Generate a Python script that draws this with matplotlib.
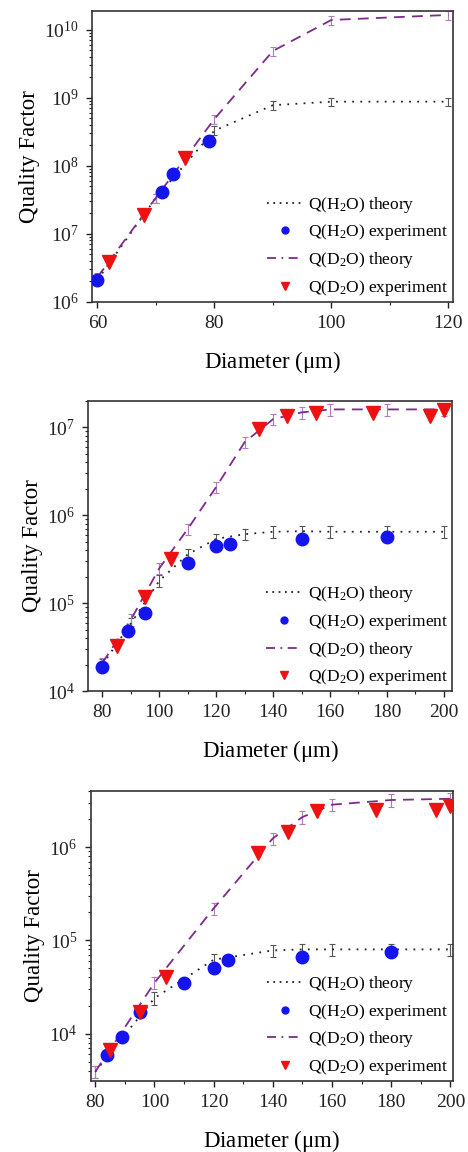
import numpy as np
import matplotlib
matplotlib.use("Agg")
import matplotlib.pyplot as plt
from matplotlib.lines import Line2D
from matplotlib.ticker import MultipleLocator, LogLocator

plt.rcParams['font.family'] = ['Liberation Serif', 'DejaVu Serif']
plt.rcParams['mathtext.fontset'] = 'custom'
plt.rcParams['mathtext.rm'] = 'Liberation Serif'
plt.rcParams['mathtext.it'] = 'Liberation Serif:italic'

# panel 1 (60-120 um)
p1_th_x = [60, 70, 80, 90, 100, 120]
p1_h2o_th = [2.1e6, 3.4e7, 3.3e8, 7.8e8, 8.8e8, 8.8e8]
p1_d2o_th = [2.3e6, 3.4e7, 4.9e8, 4.9e9, 1.4e10, 1.66e10]
p1_h2o_x = [60, 71, 73, 79]
p1_h2o_y = [2.1e6, 4.1e7, 7.5e7, 2.35e8]
p1_d2o_x = [62, 68, 75]
p1_d2o_y = [3.9e6, 1.9e7, 1.3e8]

# panel 2 (80-200 um)
p2_th_x = [80, 90, 100, 110, 120, 130, 140, 150, 160, 180, 200]
p2_h2o_th = [2.0e4, 5.9e4, 1.8e5, 3.6e5, 5.4e5, 6.1e5, 6.5e5, 6.6e5, 6.5e5, 6.5e5, 6.5e5]
p2_d2o_th = [2.1e4, 6.5e4, 2.5e5, 7.0e5, 2.1e6, 6.8e6, 1.24e7, 1.48e7, 1.6e7, 1.6e7, 1.6e7]
p2_h2o_x = [80, 89, 95, 110, 120, 125, 150, 180]
p2_h2o_y = [1.87e4, 4.9e4, 7.8e4, 2.9e5, 4.5e5, 4.7e5, 5.4e5, 5.6e5]
p2_d2o_x = [85, 95, 104, 135, 145, 155, 175, 195, 200]
p2_d2o_y = [3.3e4, 1.18e5, 3.2e5, 9.6e6, 1.36e7, 1.45e7, 1.44e7, 1.36e7, 1.58e7]

# panel 3 (80-200 um)
p3_th_x = [80, 100, 120, 140, 150, 160, 180, 200]
p3_h2o_th = [3.9e3, 2.4e4, 6.2e4, 7.8e4, 8.0e4, 8.0e4, 8.0e4, 8.0e4]
p3_d2o_th = [3.9e3, 3.5e4, 2.2e5, 1.24e6, 2.1e6, 2.85e6, 3.2e6, 3.3e6]
p3_h2o_x = [84, 89, 95, 110, 120, 125, 150, 180]
p3_h2o_y = [5.85e3, 9.1e3, 1.7e4, 3.5e4, 5.1e4, 6.2e4, 6.7e4, 7.5e4]
p3_d2o_x = [85, 95, 104, 135, 145, 155, 175, 195, 200]
p3_d2o_y = [6.6e3, 1.7e4, 4.0e4, 8.7e5, 1.46e6, 2.46e6, 2.5e6, 2.5e6, 2.75e6]

labels = [r'Q(H$_2$O) theory', r'Q(H$_2$O) experiment',
          r'Q(D$_2$O) theory', r'Q(D$_2$O) experiment']

PURPLE = '#7d2a8c'
PURPLE_ERR = '#b07cc0'
GREY_ERR = '#555555'
BLUE = '#1414ee'
RED = '#ee1111'

panels = [
    dict(rect=[0.197, 0.738, 0.771, 0.2525], xlim=(59.1, 120.8), ylim=(1e6, 1.9e10),
         xmaj=20, th_x=p1_th_x, h_th=p1_h2o_th, d_th=p1_d2o_th,
         hx=p1_h2o_x, hy=p1_h2o_y, dx=p1_d2o_x, dy=p1_d2o_y),
    dict(rect=[0.189, 0.400, 0.777, 0.252], xlim=(75.1, 202.9), ylim=(1e4, 2e7),
         xmaj=20, th_x=p2_th_x, h_th=p2_h2o_th, d_th=p2_d2o_th,
         hx=p2_h2o_x, hy=p2_h2o_y, dx=p2_d2o_x, dy=p2_d2o_y),
    dict(rect=[0.194, 0.0616, 0.774, 0.2518], xlim=(78.5, 200.9), ylim=(3.1e3, 4.0e6),
         xmaj=20, th_x=p3_th_x, h_th=p3_h2o_th, d_th=p3_d2o_th,
         hx=p3_h2o_x, hy=p3_h2o_y, dx=p3_d2o_x, dy=p3_d2o_y),
]

fig = plt.figure(figsize=(4.68, 11.52), dpi=100)

for p in panels:
    ax = fig.add_axes(p['rect'])
    ax.set_yscale('log')

    th_x = np.array(p['th_x'])
    h_th = np.array(p['h_th'])
    d_th = np.array(p['d_th'])

    ax.errorbar(th_x, h_th, yerr=0.15 * h_th, fmt='none', ecolor=GREY_ERR,
                elinewidth=0.8, capsize=2.5, capthick=0.8, zorder=2)
    ax.errorbar(th_x, d_th, yerr=0.15 * d_th, fmt='none', ecolor=PURPLE_ERR,
                elinewidth=0.8, capsize=2.5, capthick=0.8, zorder=2)
    ax.plot(th_x, h_th, color='#222222', linestyle=(0, (1, 3.5)), linewidth=1.3, zorder=3)
    ax.plot(th_x, d_th, color=PURPLE, linestyle=(0, (6, 4)), linewidth=1.3, zorder=3)
    ax.plot(p['hx'], p['hy'], 'o', color=BLUE, markersize=9, zorder=4)
    ax.plot(p['dx'], p['dy'], 'v', color=RED, markersize=10, zorder=5)

    ax.set_xlim(*p['xlim'])
    ax.set_ylim(*p['ylim'])
    ax.xaxis.set_major_locator(MultipleLocator(p['xmaj']))
    ax.xaxis.set_minor_locator(MultipleLocator(p['xmaj'] / 2))
    ax.yaxis.set_major_locator(LogLocator(base=10, numticks=10))
    ax.yaxis.set_minor_locator(LogLocator(base=10, subs=np.arange(2, 10), numticks=20))

    ax.tick_params(which='both', direction='out', top=False, right=False,
                   labelsize=14, colors='#222222')
    ax.tick_params(which='major', length=4.5, width=1, pad=5)
    ax.tick_params(which='minor', length=2.5, width=0.8)
    for s in ax.spines.values():
        s.set_linewidth(1.2)
        s.set_color('#333333')

    ax.set_xlabel(r'Diameter ($\mathrm{\mu}$m)', fontsize=16.5, labelpad=12)
    ax.set_ylabel('Quality Factor', fontsize=16.5, labelpad=3)

    handles = [
        Line2D([], [], color='#222222', linestyle=(0, (1, 2.5)), linewidth=1.3),
        Line2D([], [], marker='o', color=BLUE, linestyle='none', markersize=5),
        Line2D([], [], color=PURPLE, linestyle=(0, (5, 3, 1, 3)), linewidth=1.3),
        Line2D([], [], marker='v', color=RED, linestyle='none', markersize=5.5),
    ]
    ax.legend(handles, labels, loc='lower right', frameon=False, fontsize=12.5,
              handlelength=2.1, handletextpad=0.3, labelspacing=0.45,
              borderaxespad=0.1, bbox_to_anchor=(1.012, -0.017))

fig.savefig('out.png', dpi=100)
